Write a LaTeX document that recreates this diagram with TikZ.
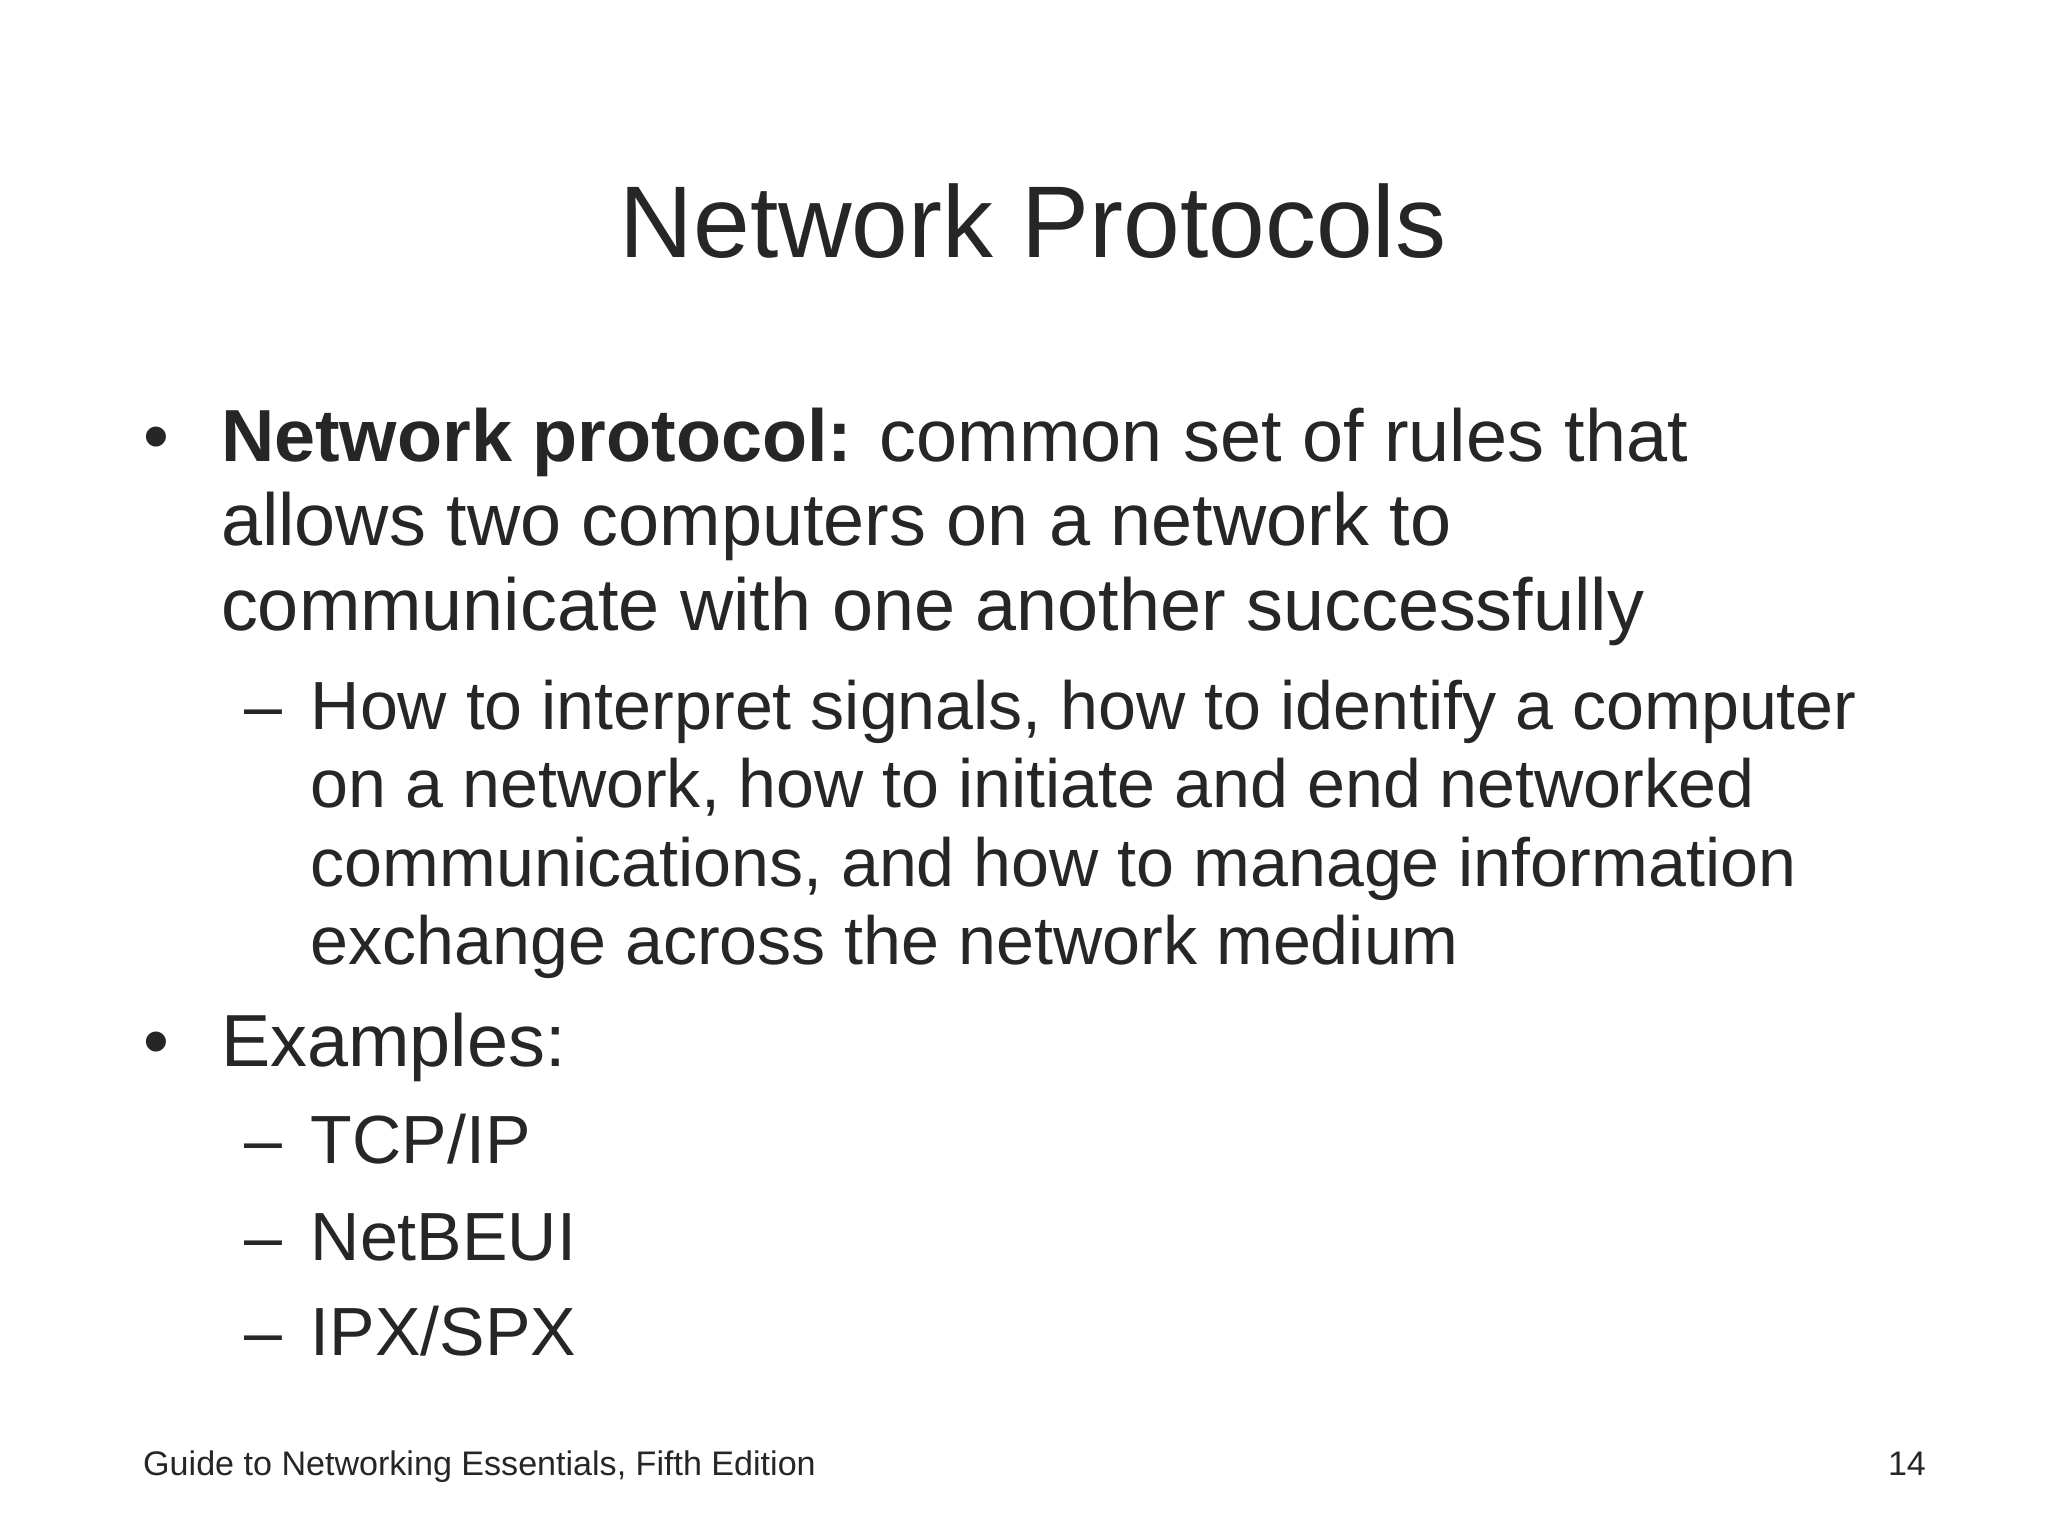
\documentclass[tikz,border=0pt]{standalone}
\usepackage{fontspec}
\setmainfont{Liberation Sans}
\definecolor{ink}{HTML}{262626}
\begin{document}
\begin{tikzpicture}[x=0.0132cm, y=-0.0132cm, every node/.style={text=ink, inner sep=0pt, anchor=base west},
    big/.style={font=\fontsize{21}{24}\selectfont},
    small/.style={font=\fontsize{19.4}{22}\selectfont}]
            \useasboundingbox (0,0) rectangle (1552,1164);

            \node[anchor=base, font=\fontsize{29}{34}\selectfont] (T) at (783,195) {Network Protocols};

            \node[big] (B1) at (108,350) {•};
            \node[big] (L1) at (167,350) {\textbf{Network protocol:} common set of rules that};
            \node[big] (L2) at (167,413) {allows two computers on a network to};
            \node[big] (L3) at (167,478) {communicate with one another successfully};

            \node[small] (D1) at (185,553) {–};
            \node[small] (S1) at (235,553) {How to interpret signals, how to identify a computer};
            \node[small] (S2) at (235,612) {on a network, how to initiate and end networked};
            \node[small] (S3) at (235,672) {communications, and how to manage information};
            \node[small] (S4) at (235,731) {exchange across the network medium};

            \node[big] (B2) at (108,808) {•};
            \node[big] (L4) at (167,808) {Examples:};

            \node[small] (D2) at (185,882) {–};
            \node[small] (E1) at (235,882) {TCP/IP};
            \node[small] (D3) at (185,955) {–};
            \node[small] (E2) at (235,955) {NetBEUI};
            \node[small] (D4) at (185,1027) {–};
            \node[small] (E3) at (235,1027) {IPX/SPX};

            \node[font=\fontsize{9.7}{12}\selectfont] (F1) at (108,1118) {Guide to Networking Essentials, Fifth Edition};
            \node[anchor=base east, font=\fontsize{9.7}{12}\selectfont] (F2) at (1460,1118) {14};
        \end{tikzpicture}
\end{document}
